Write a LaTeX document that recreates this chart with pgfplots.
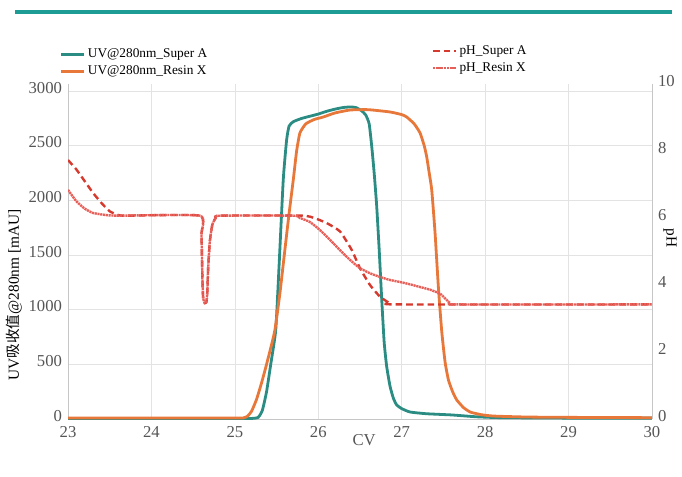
\documentclass[border=0pt]{standalone}
\usepackage{pgfplots}
\pgfplotsset{compat=1.18}
\usepackage{fontspec}
\setmainfont{Liberation Serif}
\newfontfamily\cjk{Noto Sans CJK SC}
\definecolor{barteal}{HTML}{1C9C94}
\definecolor{uvA}{HTML}{2A8C82}
\definecolor{uvX}{HTML}{E8773A}
\definecolor{phA}{HTML}{D63A2F}
\definecolor{phX}{HTML}{E65F58}
\definecolor{tickgray}{HTML}{555555}
\begin{document}
\begin{tikzpicture}
\path[use as bounding box] (0,0) rectangle (511.5pt,-357.75pt);
\draw[barteal, line width=2.4pt] (11.25pt,-9pt) -- (504pt,-9pt);
\begin{axis}[
  at={(51pt,-314.25pt)}, anchor=south west,
  scale only axis, width=438pt, height=251.25pt,
  xmin=23, xmax=30, ymin=0, ymax=3065,
  xtick={23,24,...,30}, ytick={0,500,...,3000},
  /pgf/number format/1000 sep={},
  /pgf/number format/assume math mode=true,
  grid=major, grid style={draw=gray!22, line width=0.5pt},
  axis x line*=bottom, axis y line*=left,
  axis line style={-, draw=gray!45, line width=0.6pt},
  major tick length=0pt,
  ticklabel style={font=\fontsize{12.5}{13}\selectfont, text=tickgray},
  xticklabel style={yshift=-2pt},
  yticklabel style={yshift=2.5pt, xshift=-1pt},
  xlabel={CV},
  x label style={at={(axis description cs:0.507,0)}, anchor=center, yshift=-16pt, font=\fontsize{12.5}{13}\selectfont, text=tickgray},
  ylabel={UV{\cjk\fontsize{11}{12}\selectfont 吸收值}@280nm [mAU]},
  y label style={at={(axis description cs:-0.092,0.37)}, anchor=center, font=\fontsize{11.5}{12}\selectfont, text=black},
  legend style={at={(axis description cs:-0.017,1.118)}, anchor=north west, draw=none, fill=none,
    font=\fontsize{10}{11}\selectfont, row sep=0.6pt, inner sep=1pt},
  legend cell align=left,
]
\addplot[uvA, line width=2.1pt, smooth, tension=0.3] coordinates {
(23,5) (24,5) (25,5) (25.2,5) (25.28,15) (25.33,80) (25.38,250) (25.43,500) (25.49,814)
(25.53,1400) (25.58,2187) (25.62,2550) (25.65,2680) (25.7,2720) (25.8,2750) (25.9,2770)
(26.0,2790) (26.1,2815) (26.2,2835) (26.3,2850) (26.38,2855) (26.45,2850) (26.52,2820)
(26.57,2780) (26.61,2700) (26.64,2500) (26.67,2250) (26.7,1950) (26.73,1550) (26.76,1100)
(26.79,700) (26.82,480) (26.86,300) (26.9,190) (26.94,128) (27.0,95) (27.1,64) (27.3,48)
(27.6,37) (27.9,20) (28.2,12) (29,8) (30,8)};
\addlegendentry{UV@280nm\_Super A}
\addplot[uvX, line width=2.1pt, smooth, tension=0.3] coordinates {
(23,10) (25.0,10) (25.1,10) (25.15,25) (25.2,70) (25.26,180) (25.32,330) (25.38,500)
(25.43,650) (25.48,814) (25.54,1150) (25.6,1550) (25.65,1880) (25.70,2186) (25.74,2450)
(25.78,2617) (25.85,2700) (25.95,2740) (26.06,2763) (26.2,2800) (26.38,2827) (26.6,2830)
(26.86,2809) (27.0,2785) (27.06,2763) (27.15,2700) (27.22,2617) (27.27,2500) (27.30,2397)
(27.33,2250) (27.36,2095) (27.4,1700) (27.44,1200) (27.48,800) (27.52,520) (27.56,357)
(27.61,250) (27.66,174) (27.74,105) (27.82,64) (27.95,40) (28.1,27) (28.5,18) (29,15) (30,12)};
\addlegendentry{UV@280nm\_Resin X}
\end{axis}
\begin{axis}[
  at={(51pt,-314.25pt)}, anchor=south west,
  scale only axis, width=438pt, height=251.25pt,
  xmin=23, xmax=30, ymin=0, ymax=10,
  ytick={0,2,...,10},
  /pgf/number format/assume math mode=true,
  axis x line=none, axis y line*=right,
  axis line style={-, draw=gray!45, line width=0.6pt},
  major tick length=0pt,
  ticklabel style={font=\fontsize{12.5}{13}\selectfont, text=tickgray},
  yticklabel style={yshift=2.5pt, xshift=1pt},
  ylabel={pH},
  y label style={at={(axis description cs:1.031,0.54)}, anchor=center, rotate=180, font=\fontsize{11.5}{12}\selectfont, text=black},
  legend style={at={(axis description cs:0.62,1.128)}, anchor=north west, draw=none, fill=none,
    font=\fontsize{10}{11}\selectfont, row sep=0.6pt, inner sep=1pt},
  legend cell align=left,
]
\addplot[phA, line width=1.8pt, dash pattern=on 5pt off 3pt, smooth, tension=0.3] coordinates {
(23,7.73) (23.1,7.45) (23.2,7.1) (23.3,6.75) (23.4,6.45) (23.5,6.2) (23.6,6.09) (23.7,6.07)
(24.58,6.07) (24.6,5.5) (24.61,4.3) (24.62,3.6) (24.64,3.46) (24.66,3.5) (24.67,3.8) (24.68,4.5)
(24.7,5.3) (24.73,5.8) (24.77,6.0) (24.82,6.07) (25.8,6.07) (25.95,6.0) (26.1,5.85) (26.26,5.6)
(26.4,5.05) (26.5,4.5) (26.62,4.0) (26.74,3.65) (26.85,3.47) (26.95,3.42) (30,3.42)};
\addlegendentry{pH\_Super A}
\addplot[phX, line width=1.8pt, dash pattern=on 1.6pt off 0.5pt, smooth, tension=0.3] coordinates {
(23,6.84) (23.1,6.5) (23.2,6.28) (23.3,6.15) (23.45,6.09) (23.6,6.07)
(24.58,6.07) (24.6,5.5) (24.61,4.3) (24.62,3.6) (24.64,3.46) (24.66,3.5) (24.67,3.8) (24.68,4.5)
(24.7,5.3) (24.73,5.8) (24.77,6.0) (24.82,6.07) (25.7,6.07) (25.78,6.0) (25.9,5.88) (26.02,5.64)
(26.14,5.35) (26.26,5.04) (26.38,4.75) (26.5,4.5) (26.62,4.35) (26.74,4.24) (26.86,4.15)
(26.98,4.09) (27.1,4.02) (27.22,3.94) (27.34,3.86) (27.46,3.74) (27.52,3.6) (27.58,3.46)
(27.66,3.42) (30,3.42)};
\addlegendentry{pH\_Resin X}
\end{axis}
\end{tikzpicture}
\end{document}
